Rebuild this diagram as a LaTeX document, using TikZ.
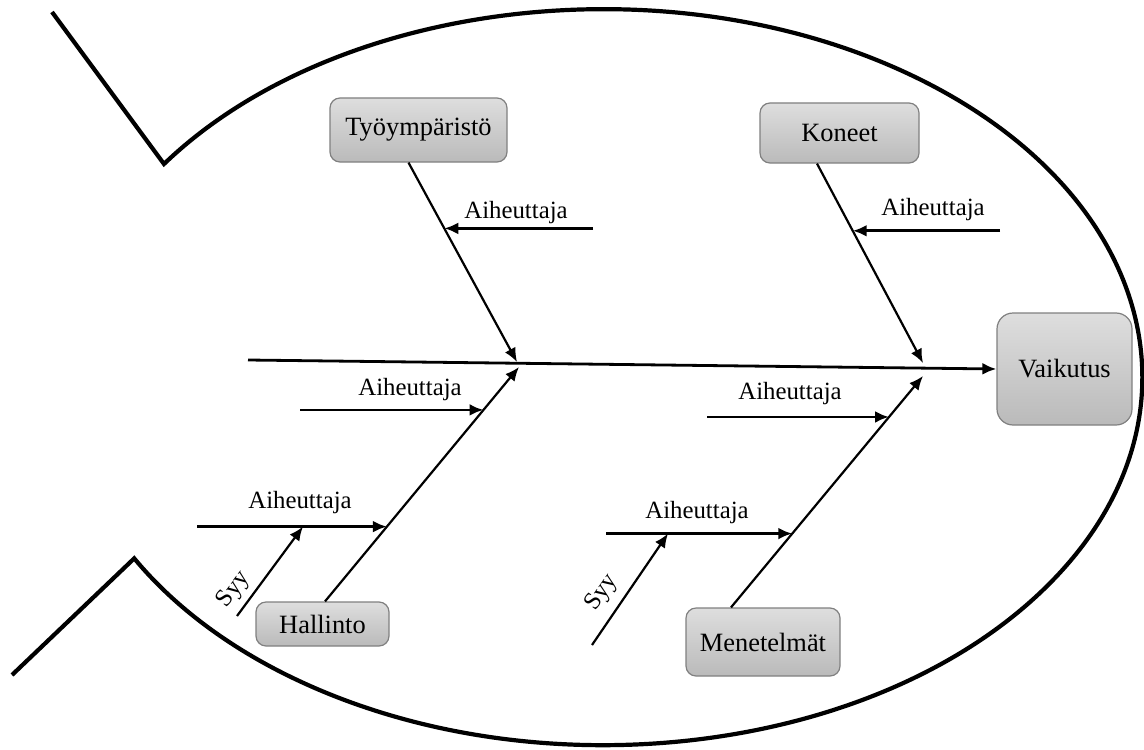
\documentclass[tikz,border=0pt]{standalone}
\usepackage{fontspec}
\setmainfont{Liberation Serif}
\usetikzlibrary{arrows.meta,calc}

\begin{document}
\begin{tikzpicture}[x=0.5pt,y=-0.5pt,
  fish/.style={line width=2.1pt, line join=miter},
  box/.style={draw=black!50, line width=0.6pt, rounded corners=5pt,
    top color=black!13, bottom color=black!27, inner sep=0pt,
    font=\fontsize{13.2}{15}\selectfont},
  spine/.style={line width=1.4pt, -{Latex[length=7pt,width=6pt]}},
  branch/.style={line width=1.1pt, -{Latex[length=7pt,width=6pt]}},
  cause/.style={line width=1.4pt, -{Latex[length=7pt,width=6pt]}},
  lbl/.style={font=\fontsize{12.4}{14}\selectfont, inner sep=0pt},
  syylbl/.style={font=\fontsize{12.4}{14}\selectfont, inner sep=0pt}]

\useasboundingbox (0,0) rectangle (1144,749);

% body outline with the tail
\draw[fish] (52,12) -- (164,164)
  arc[start angle=-144.6, end angle=150.5, x radius=539, y radius=368]
  -- (12,675);

% category boxes and the effect
\node[box, minimum width=88.5pt, minimum height=32pt] (tyo) at (418.5,130) {Työympäristö};
\node[box, minimum width=79.5pt, minimum height=30pt] (kon) at (839.5,133) {Koneet};
\node[box, minimum width=67.5pt, minimum height=56pt, rounded corners=8pt] (vai) at (1064.5,369) {Vaikutus};
\node[box, minimum width=66.5pt, minimum height=22pt] (hal) at (322.5,624) {Hallinto};
\node[box, minimum width=77pt, minimum height=34pt] (men) at (763,642) {Menetelmät};

% spine
\coordinate (spL) at (248,360);
\draw[spine] (spL) -- (vai.west);

% main bones
\coordinate (b1) at ([xshift=-5pt]tyo.south);
\coordinate (b2) at ([xshift=-11.25pt]kon.south);
\coordinate (b3) at ([xshift=1.25pt]hal.north);
\coordinate (b4) at ([xshift=-16pt]men.north);
\coordinate (t1) at (517,362);
\coordinate (t2) at (923,363);
\coordinate (t3) at (519,367);
\coordinate (t4) at (923,376);
\draw[branch] (b1) -- (t1);
\draw[branch] (b2) -- (t2);
\draw[branch] (b3) -- (t3);
\draw[branch] (b4) -- (t4);

% cause arrows onto the bones
\coordinate (c1) at ($(b1)!0.33!(t1)$);
\coordinate (c2) at ($(b2)!0.337!(t2)$);
\coordinate (c3) at ($(b3)!0.817!(t3)$);
\coordinate (c4) at ($(b3)!0.319!(t3)$);
\coordinate (c5) at ($(b4)!0.823!(t4)$);
\coordinate (c6) at ($(b4)!0.319!(t4)$);
\coordinate (a1) at (593,0 |- c1);
\coordinate (a2) at (1000,0 |- c2);
\coordinate (a3) at (300,0 |- c3);
\coordinate (a4) at (197,0 |- c4);
\coordinate (a5) at (707,0 |- c5);
\coordinate (a6) at (606,0 |- c6);
\draw[cause] (a1) -- (c1);
\draw[cause] (a2) -- (c2);
\draw[cause] (a3) -- (c3);
\draw[cause] (a4) -- (c4);
\draw[cause] (a5) -- (c5);
\draw[cause] (a6) -- (c6);

\node[lbl] (l1) at (516,213) {Aiheuttaja};
\node[lbl] (l2) at (933,210) {Aiheuttaja};
\node[lbl] (l3) at (410,390) {Aiheuttaja};
\node[lbl] (l4) at (300,503) {Aiheuttaja};
\node[lbl] (l5) at (790,394) {Aiheuttaja};
\node[lbl] (l6) at (697,513) {Aiheuttaja};

% sub-causes
\coordinate (s1) at (237,616);
\coordinate (s2) at (592,645);
\coordinate (d1) at ($(a4)!0.558!(c4)$);
\coordinate (d2) at ($(a6)!0.333!(c6)$);
\draw[branch] (s1) -- (d1);
\draw[branch] (s2) -- (d2);
\node[syylbl, rotate=53] (y1) at (234,590) {Syy};
\node[syylbl, rotate=55] (y2) at (602,593) {Syy};

\end{tikzpicture}
\end{document}
